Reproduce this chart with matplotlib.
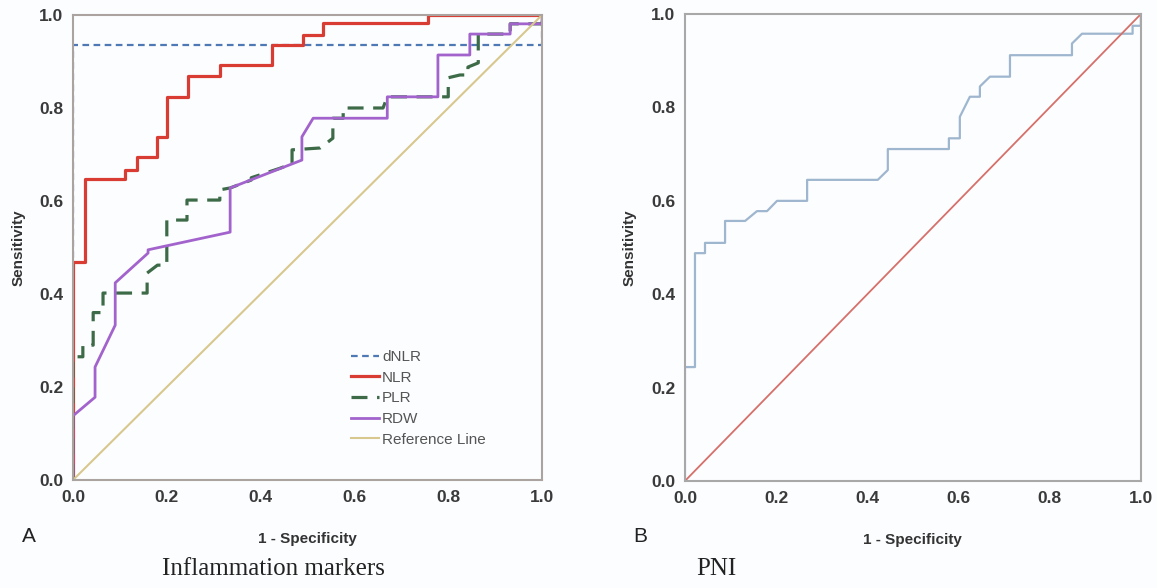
import matplotlib.pyplot as plt

# ROC curves, panel A (inflammation markers)
dnlr_fpr = [0, 0, 1.0, 1.0]
dnlr_tpr = [0, 0.935, 0.935, 1.0]

nlr_fpr = [0, 0, 0.026, 0.026, 0.111, 0.111, 0.136, 0.136, 0.179, 0.179, 0.2, 0.2,
           0.245, 0.245, 0.313, 0.313, 0.424, 0.424, 0.49, 0.49, 0.533, 0.533,
           0.757, 0.757, 1.0]
nlr_tpr = [0, 0.469, 0.469, 0.647, 0.647, 0.667, 0.667, 0.695, 0.695, 0.738, 0.738, 0.824,
           0.824, 0.869, 0.869, 0.892, 0.892, 0.935, 0.935, 0.957, 0.957, 0.982,
           0.982, 1.0, 1.0]

plr_fpr = [0, 0, 0.021, 0.021, 0.043, 0.043, 0.064, 0.064, 0.158, 0.158, 0.18, 0.2, 0.2,
           0.243, 0.243, 0.313, 0.313, 0.335, 0.38, 0.38, 0.44, 0.467, 0.467, 0.527,
           0.554, 0.554, 0.576, 0.576, 0.661, 0.67, 0.8, 0.8, 0.825, 0.842, 0.842,
           0.864, 0.864, 0.932, 0.932, 1.0, 1.0]
plr_tpr = [0, 0.265, 0.265, 0.29, 0.29, 0.36, 0.36, 0.402, 0.402, 0.445, 0.462, 0.462, 0.559,
           0.559, 0.602, 0.602, 0.624, 0.628, 0.645, 0.65, 0.67, 0.68, 0.71, 0.714,
           0.735, 0.778, 0.778, 0.80, 0.80, 0.824, 0.824, 0.865, 0.871, 0.871, 0.888,
           0.897, 0.959, 0.959, 0.981, 0.981, 1.0]

rdw_fpr = [0, 0, 0.047, 0.047, 0.09, 0.09, 0.16, 0.16, 0.335, 0.335, 0.488, 0.488, 0.512,
           0.67, 0.67, 0.778, 0.778, 0.846, 0.846, 0.932, 0.932, 1.0, 1.0]
rdw_tpr = [0, 0.138, 0.178, 0.243, 0.333, 0.424, 0.488, 0.495, 0.533, 0.628, 0.688, 0.738, 0.778,
           0.778, 0.824, 0.824, 0.914, 0.914, 0.959, 0.959, 0.981, 0.981, 1.0]

# ROC curve, panel B (PNI)
pni_fpr = [0, 0, 0.022, 0.022, 0.044, 0.044, 0.088, 0.088, 0.132, 0.158, 0.18, 0.202,
           0.268, 0.268, 0.423, 0.445, 0.445, 0.579, 0.579, 0.603, 0.603, 0.625, 0.647,
           0.647, 0.669, 0.713, 0.713, 0.849, 0.849, 0.871, 0.982, 0.982, 1.0, 1.0]
pni_tpr = [0, 0.244, 0.244, 0.488, 0.488, 0.51, 0.51, 0.557, 0.557, 0.578, 0.578, 0.6,
           0.6, 0.645, 0.645, 0.666, 0.711, 0.711, 0.734, 0.734, 0.78, 0.823, 0.823,
           0.845, 0.866, 0.866, 0.912, 0.912, 0.937, 0.958, 0.958, 0.975, 0.975, 1.0]

ref = [0, 1]
ticks = [0.0, 0.2, 0.4, 0.6, 0.8, 1.0]
tick_labels = ['0.0', '0.2', '0.4', '0.6', '0.8', '1.0']

plt.rcParams['font.family'] = ['Liberation Sans', 'DejaVu Sans']

fig = plt.figure(figsize=(11.57, 5.88), dpi=100, facecolor='#fcfdff')
ax1 = fig.add_axes([0.0631, 0.1837, 0.4054, 0.7908])
ax2 = fig.add_axes([0.592, 0.182, 0.394, 0.794])


def style_axes(ax, spine_color):
    ax.set_xlim(0, 1)
    ax.set_ylim(0, 1)
    ax.set_facecolor('#fcfdff')
    ax.set_xticks(ticks)
    ax.set_yticks(ticks)
    ax.set_xticklabels(tick_labels, fontsize=12.5, fontweight='bold', color='#3a3a3a')
    ax.set_yticklabels(tick_labels, fontsize=12.5, fontweight='bold', color='#3a3a3a')
    ax.tick_params(length=0, pad=7)
    for s in ax.spines.values():
        s.set_color(spine_color)
        s.set_linewidth(1.5)
    ax.set_xlabel('1 - Specificity', fontsize=11, fontweight='bold', color='#333333', labelpad=20)
    ax.set_ylabel('Sensitivity', fontsize=11, fontweight='bold', color='#333333', labelpad=10)


# panel A
ax1.plot(dnlr_fpr, dnlr_tpr, color='#4f79b5', lw=1.6, ls=(0, (3, 2)), label='dNLR')
ax1.plot(nlr_fpr, nlr_tpr, color='#d93c32', lw=2.3, label='NLR')
ax1.plot(plr_fpr, plr_tpr, color='#3d6b48', lw=2.3, ls=(0, (5, 3)), label='PLR')
ax1.plot(rdw_fpr, rdw_tpr, color='#a264cc', lw=2.0, label='RDW')
ax1.plot(ref, ref, color='#d8c88e', lw=1.5, label='Reference Line')
ax1.legend(loc='upper left', bbox_to_anchor=(0.592, 0.279), frameon=False,
           fontsize=11, handlelength=1.85, handletextpad=0.2, labelspacing=0.43,
           borderaxespad=0, borderpad=0, labelcolor='#555555')
style_axes(ax1, '#aaa39f')

# panel B
ax2.plot(pni_fpr, pni_tpr, color='#9fb6cf', lw=1.6)
ax2.plot(ref, ref, color='#d6706a', lw=1.3)
style_axes(ax2, '#a8a8a8')

fig.text(22 / 1157, 1 - 537 / 588, 'A', fontsize=15, va='center', ha='left', color='#222222')
fig.text(633 / 1157, 1 - 537 / 588, 'B', fontsize=15, va='center', ha='left', color='#222222')
fig.text(273 / 1157, 1 - 569 / 588, 'Inflammation markers', fontsize=18, ha='center', va='center',
         family=['Liberation Serif', 'DejaVu Serif'], color='#222222')
fig.text(716 / 1157, 1 - 569 / 588, 'PNI', fontsize=18, ha='center', va='center',
         family=['Liberation Serif', 'DejaVu Serif'], color='#222222')

plt.savefig('out.png', dpi=100, facecolor=fig.get_facecolor())
